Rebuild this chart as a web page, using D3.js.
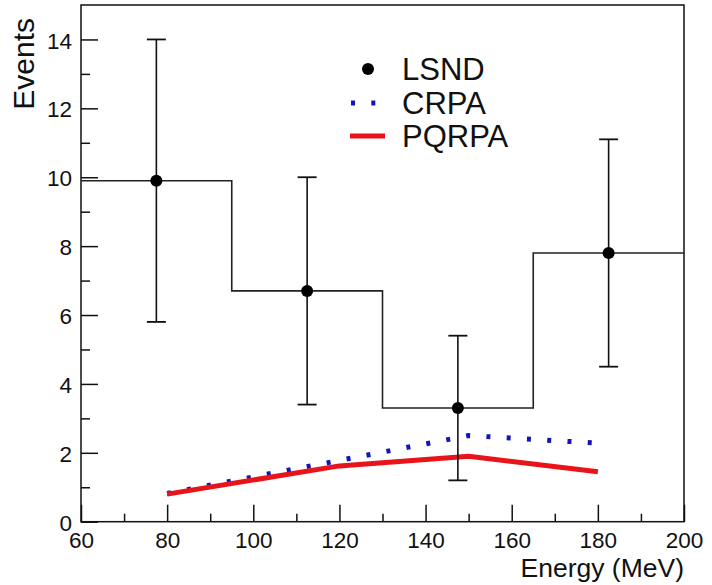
<!DOCTYPE html>
<html>
  <head>
    <meta charset='utf-8'>
    <title>LSND events</title>
    <script src='https://d3js.org/d3.v7.min.js'></script>
    <style>
      body { margin: 0; background: #fff; }
      text { font-family: 'Liberation Sans', Arial, sans-serif; fill: #111; }
    </style>
  </head>

  <body>
    <div id='grafico'></div>
    <script>
    // Datos LSND (histograma con barras de error)
    const binEdges  = [60, 95, 130, 165, 200];
    const lsndY     = [9.9, 6.7, 3.3, 7.8];
    const lsndLow   = [5.8, 3.4, 1.2, 4.5];
    const lsndHigh  = [14.0, 10.0, 5.4, 11.1];

    // Curvas teóricas
    const crpaE  = [80, 120, 150, 180];
    const crpaY  = [0.82, 1.78, 2.5, 2.28];
    const pqrpaE = [80, 120, 150, 180];
    const pqrpaY = [0.8, 1.62, 1.9, 1.45];

    const legendLabels = ['LSND', 'CRPA', 'PQRPA'];

    // Canvas y márgenes
    const margin = { top: 5, right: 28, bottom: 63.3, left: 81 },
          width  = 712 - margin.left - margin.right,
          height = 585 - margin.top - margin.bottom;

    const svg = d3.select('#grafico').append('svg')
                  .attr('width', 712)
                  .attr('height', 585)
                  .append('g')
                  .attr('transform', 'translate(' + margin.left + ',' + margin.top + ')');

    const xScale = d3.scaleLinear().domain([60, 200]).range([0, width]);
    const yScale = d3.scaleLinear().domain([0, 15]).range([height, 0]);

    // Ejes (ticks hacia dentro, estilo ROOT)
    const xAxis = svg.append('g')
      .attr('transform', 'translate(0,' + height + ')')
      .call(d3.axisBottom(xScale).tickValues(d3.range(60, 201, 20)).tickSize(-17).tickPadding(10).tickSizeOuter(0));
    svg.append('g')
      .attr('transform', 'translate(0,' + height + ')')
      .call(d3.axisBottom(xScale).tickValues(d3.range(70, 200, 20)).tickSize(-8).tickFormat('').tickSizeOuter(0));

    const yAxis = svg.append('g')
      .call(d3.axisLeft(yScale).tickValues(d3.range(0, 15, 2)).tickSize(-17).tickPadding(9).tickSizeOuter(0));
    svg.append('g')
      .call(d3.axisLeft(yScale).tickValues(d3.range(1, 15, 2)).tickSize(-9).tickFormat('').tickSizeOuter(0));

    svg.selectAll('.tick line').attr('stroke', '#111').attr('stroke-width', 1.5);
    svg.selectAll('.domain').remove();
    svg.selectAll('.tick text')
      .style('font-family', "'Liberation Sans', Arial, sans-serif")
      .style('font-size', '22.5px')
      .attr('fill', '#111');
    yAxis.selectAll('.tick text').attr('dy', '0.38em');

    // Marco
    svg.append('rect')
      .attr('width', width).attr('height', height)
      .attr('fill', 'none').attr('stroke', '#111').attr('stroke-width', 1.5);

    // Títulos de ejes
    svg.append('text')
      .attr('x', width).attr('y', height + 55)
      .attr('text-anchor', 'end')
      .style('font-size', '26.5px')
      .text('Energy (MeV)');
    svg.append('text')
      .attr('transform', 'translate(' + (34 - margin.left) + ',' + (18 - margin.top) + ') rotate(-90)')
      .attr('text-anchor', 'end')
      .style('font-size', '30px')
      .text('Events');

    // Histograma LSND
    const stepPts = [];
    lsndY.forEach((v, i) => { stepPts.push([binEdges[i], v]); stepPts.push([binEdges[i + 1], v]); });
    const line = d3.line().x(d => xScale(d[0])).y(d => yScale(d[1]));
    svg.append('path')
      .attr('d', line(stepPts))
      .attr('fill', 'none').attr('stroke', '#222').attr('stroke-width', 1.6);

    // Curvas
    svg.append('path')
      .attr('d', line(crpaE.map((e, i) => [e, crpaY[i]])))
      .attr('fill', 'none').attr('stroke', '#1414b8').attr('stroke-width', 5)
      .attr('stroke-dasharray', '4,16.3');
    svg.append('path')
      .attr('d', line(pqrpaE.map((e, i) => [e, pqrpaY[i]])))
      .attr('fill', 'none').attr('stroke', '#e8141a').attr('stroke-width', 5);

    // Puntos y barras de error
    const centers = lsndY.map((v, i) => (binEdges[i] + binEdges[i + 1]) / 2);
    const pts = svg.append('g').selectAll('g')
      .data(lsndY).enter().append('g');
    pts.append('line')
      .attr('x1', (d, i) => xScale(centers[i])).attr('x2', (d, i) => xScale(centers[i]))
      .attr('y1', (d, i) => yScale(lsndLow[i])).attr('y2', (d, i) => yScale(lsndHigh[i]))
      .attr('stroke', '#111').attr('stroke-width', 1.6);
    [lsndLow, lsndHigh].forEach(arr => {
      pts.append('line')
        .attr('x1', (d, i) => xScale(centers[i]) - 9.5).attr('x2', (d, i) => xScale(centers[i]) + 9.5)
        .attr('y1', (d, i) => yScale(arr[i])).attr('y2', (d, i) => yScale(arr[i]))
        .attr('stroke', '#111').attr('stroke-width', 1.8);
    });
    pts.append('circle')
      .attr('cx', (d, i) => xScale(centers[i])).attr('cy', d => yScale(d))
      .attr('r', 6).attr('fill', '#000');

    // Leyenda
    const lg = svg.append('g').attr('transform', 'translate(' + (-margin.left) + ',' + (-margin.top) + ')');
    lg.selectAll('text').data(legendLabels).enter().append('text')
      .attr('x', 402).attr('y', (d, i) => 80 + i * 33.5)
      .style('font-size', '31px')
      .text(d => d);
    lg.append('circle').attr('cx', 368).attr('cy', 69).attr('r', 6).attr('fill', '#000');
    lg.append('line').attr('x1', 351).attr('x2', 376).attr('y1', 103).attr('y2', 103)
      .attr('stroke', '#1414b8').attr('stroke-width', 5).attr('stroke-dasharray', '4,16.3');
    lg.append('line').attr('x1', 350).attr('x2', 385).attr('y1', 136).attr('y2', 136)
      .attr('stroke', '#e8141a').attr('stroke-width', 5);
    </script>
  </body>
</html>
